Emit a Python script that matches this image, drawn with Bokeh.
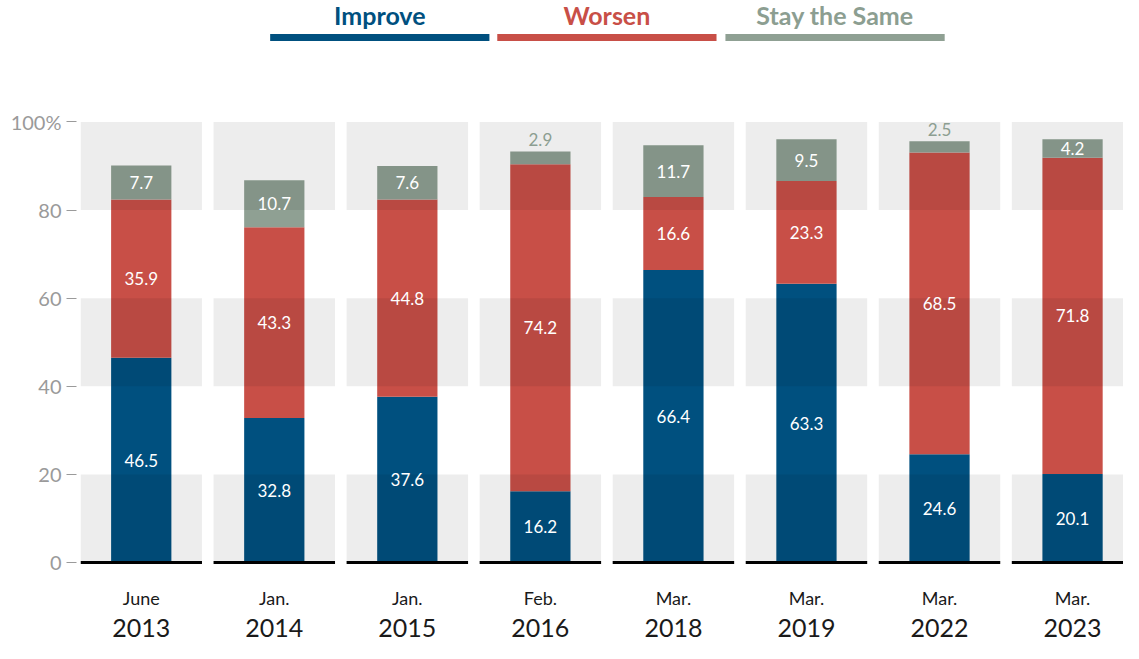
import numpy as np
from bokeh.plotting import figure
from bokeh.models import ColumnDataSource, Range1d, FixedTicker
from bokeh.core.properties import value
from bokeh.embed import file_html
from bokeh.resources import INLINE

# ---- data ----
months = ["June", "Jan.", "Jan.", "Feb.", "Mar.", "Mar.", "Mar.", "Mar."]
years = ["2013", "2014", "2015", "2016", "2018", "2019", "2022", "2023"]
improve = [46.5, 32.8, 37.6, 16.2, 66.4, 63.3, 24.6, 20.1]
worsen = [35.9, 43.3, 44.8, 74.2, 16.6, 23.3, 68.5, 71.8]
same = [7.7, 10.7, 7.6, 2.9, 11.7, 9.5, 2.5, 4.2]
series_names = ["Improve", "Worsen", "Stay the Same"]
y_ticks = [0, 20, 40, 60, 80, 100]
tick_labels = {100: "100%"}

# ---- styles / layout ----
bar_colors = ["#00507f", "#c84f47", "#8fa093"]
legend_text_colors = ["#00507f", "#c84f47", "#8c9e91"]
bands = [(0, 20), (40, 60), (80, 100)]
panel_w = 0.913
bar_w = 0.453
FONT = "Lato"

n = len(years)
xs = np.arange(n)

p = figure(width=1123, height=643,
           x_range=Range1d(-0.4566, 7.383), y_range=Range1d(-18.39, 127.58),
           output_backend="svg", toolbar_location=None, x_axis_location=None,
           min_border_left=80, min_border_right=0, min_border_top=0, min_border_bottom=0)
p.outline_line_color = None
p.xgrid.visible = False
p.ygrid.visible = False
p.background_fill_color = "white"
p.border_fill_color = "white"

# ---- stacked bars ----
series = [improve, worsen, same]
bottom = np.zeros(n)
label_x, label_y, label_t, label_c = [], [], [], []
for vals, col in zip(series, bar_colors):
    v = np.array(vals)
    src = ColumnDataSource(dict(x=xs, bottom=bottom.copy(), top=bottom + v))
    p.vbar(x="x", bottom="bottom", top="top", width=bar_w, source=src,
           fill_color=col, line_color=None)
    for i in range(n):
        if v[i] >= 3.5:
            label_x.append(xs[i]); label_y.append(bottom[i] + v[i] / 2)
            label_t.append(f"{v[i]:.1f}"); label_c.append("white")
        else:
            label_x.append(xs[i]); label_y.append(bottom[i] + v[i] + 2.7)
            label_t.append(f"{v[i]:.1f}"); label_c.append("#8c9e91")
    bottom = bottom + v

# ---- gray panel bands (multiply-like overlay) ----
ql, qr, qb, qt = [], [], [], []
for i in range(n):
    for b0, b1 in bands:
        ql.append(xs[i] - panel_w / 2); qr.append(xs[i] + panel_w / 2)
        qb.append(b0); qt.append(b1)
p.quad(left=ql, right=qr, bottom=qb, top=qt, fill_color="black",
       fill_alpha=0.0706, line_color=None)

# ---- baseline per panel ----
p.segment(x0=xs - panel_w / 2, x1=xs + panel_w / 2, y0=np.zeros(n), y1=np.zeros(n),
          line_color="black", line_width=3, line_cap="butt")

# ---- value labels ----
lsrc = ColumnDataSource(dict(x=label_x, y=label_y, t=label_t, c=label_c))
p.text(x="x", y="y", text="t", text_color="c", source=lsrc,
       text_font=value(FONT), text_font_size="17px",
       text_align="center", text_baseline="middle")

# ---- category labels ----
p.text(x=xs, y=[-8.07] * n, text=months, text_color="#1a1a1a",
       text_font=value(FONT), text_font_size="18px",
       text_align="center", text_baseline="middle")
p.text(x=xs, y=[-14.8] * n, text=years, text_color="#1a1a1a",
       text_font=value(FONT), text_font_size="25px",
       text_align="center", text_baseline="middle")

# ---- legend (top) ----
leg_centers = [1.793, 3.500, 5.215]
leg_half = 0.824
p.quad(left=[c - leg_half for c in leg_centers], right=[c + leg_half for c in leg_centers],
       bottom=[118.39] * 3, top=[119.96] * 3, fill_color=bar_colors, line_color=None)
p.text(x=leg_centers, y=[124.2] * 3, text=series_names, text_color=legend_text_colors,
       text_font=value(FONT), text_font_size="25px", text_font_style="bold",
       text_align="center", text_baseline="middle")

# ---- y axis ----
ax = p.yaxis[0]
ax.ticker = FixedTicker(ticks=y_ticks)
ax.major_label_overrides = tick_labels
ax.axis_line_color = None
ax.minor_tick_line_color = None
ax.major_tick_in = -4
ax.major_tick_out = 14
ax.major_tick_line_color = "#9a9a9a"
ax.major_tick_line_width = 1
ax.major_label_text_color = "#9a9a9a"
ax.major_label_text_font = FONT
ax.major_label_text_font_size = "20px"
ax.major_label_standoff = 5

open("out.html", "w").write(file_html(p, INLINE))
